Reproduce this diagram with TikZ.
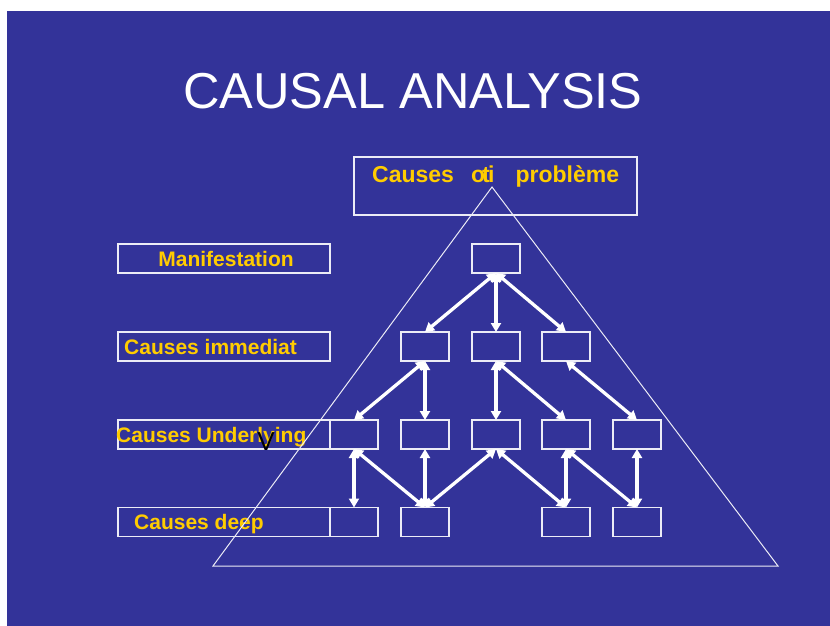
\documentclass[tikz,border=0pt]{standalone}
\usepackage{fontspec}
\setmainfont{Liberation Sans}
\usetikzlibrary{arrows.meta}
\definecolor{bg}{HTML}{333399}
\definecolor{gold}{HTML}{FFCC00}
\definecolor{edge}{HTML}{ECECF6}
\begin{document}
\begin{tikzpicture}[x=1pt,y=-1pt,
  cell/.style={draw=edge, line width=1.3pt, minimum width=48pt, minimum height=29pt, inner sep=0pt, outer sep=0pt},
  labelbox/.style={draw=edge, line width=1.3pt, minimum width=212pt, minimum height=29pt, inner sep=0pt, outer sep=0pt},
  lbl/.style={text=gold, font=\fontsize{21}{21}\selectfont\bfseries, inner sep=0pt},
  link/.style={draw=white, line width=3.3pt, {Triangle[length=9pt,width=10pt]}-{Triangle[length=9pt,width=10pt]}},
  tri/.style={draw=edge, line width=1pt}]
\useasboundingbox (0,0) rectangle (830,626);
\fill[white] (0,0) rectangle (830,626);
\fill[bg] (7,11) rectangle (830,626);

% title
\node[anchor=base, text=white, font=\fontsize{50.5}{50.5}\selectfont, inner sep=0pt] (title) at (413,108) {CAUSAL ANALYSIS};

% top box
\node[draw=edge, line width=1.3pt, minimum width=283pt, minimum height=58pt, inner sep=0pt] (top) at (495.5,186) {};
\node[anchor=base west, text=gold, font=\fontsize{23}{23}\selectfont\bfseries, inner sep=0pt] (toptext) at (372,182)
  {Causes\hspace{17pt}o\kern-3pt t\kern-1.5pt i\hspace{21pt}problème};

% left label boxes
\node[labelbox] (lb1) at (224,258.5) {};
\node[labelbox] (lb2) at (224,346.5) {};
\node[labelbox] (lb3) at (224,434.5) {};
\node[labelbox] (lb4) at (224,522) {};
\node[lbl, anchor=base] (t1) at (226,266) {Manifestation};
\node[lbl, anchor=base west] (t2) at (124,354) {Causes immediat};
\node[lbl, anchor=base west] (t3) at (116,442) {Causes Underlying};
\node[lbl, anchor=base west] (t4) at (134,529) {Causes deep};
\node[anchor=base, text=black, font=\fontsize{26}{26}\selectfont, inner sep=0pt] (vmark) at (266,450) {V};

% cells
\node[cell] (r1c3) at (496,258.5) {};
\node[cell] (r2c2) at (425,346.5) {};
\node[cell] (r2c3) at (496,346.5) {};
\node[cell] (r2c4) at (566,346.5) {};
\node[cell] (r3c1) at (354,434.5) {};
\node[cell] (r3c2) at (425,434.5) {};
\node[cell] (r3c3) at (496,434.5) {};
\node[cell] (r3c4) at (566,434.5) {};
\node[cell] (r3c5) at (637,434.5) {};
\node[cell] (r4c1) at (354,522) {};
\node[cell] (r4c2) at (425,522) {};
\node[cell] (r4c4) at (566,522) {};
\node[cell] (r4c5) at (637,522) {};

% triangle
\coordinate (apex) at (492,187);
\coordinate (bl) at (213,566);
\coordinate (br) at (778,566);
\draw[tri] (apex) -- (bl) -- (br) -- cycle;

% links
\draw[link] (r1c3.south) -- (r2c2.north);
\draw[link] (r1c3.south) -- (r2c3.north);
\draw[link] (r1c3.south) -- (r2c4.north);

\draw[link] (r2c2.south) -- (r3c1.north);
\draw[link] (r2c2.south) -- (r3c2.north);
\draw[link] (r2c3.south) -- (r3c3.north);
\draw[link] (r2c3.south) -- (r3c4.north);
\draw[link] (r2c4.south) -- (r3c5.north);

\draw[link] (r3c1.south) -- (r4c1.north);
\draw[link] (r3c1.south) -- (r4c2.north);
\draw[link] (r3c2.south) -- (r4c2.north);
\draw[link] (r4c2.north) -- (r3c3.south);
\draw[link] (r3c3.south) -- (r4c4.north);
\draw[link] (r3c4.south) -- (r4c4.north);
\draw[link] (r3c4.south) -- (r4c5.north);
\draw[link] (r3c5.south) -- (r4c5.north);
\end{tikzpicture}
\end{document}
